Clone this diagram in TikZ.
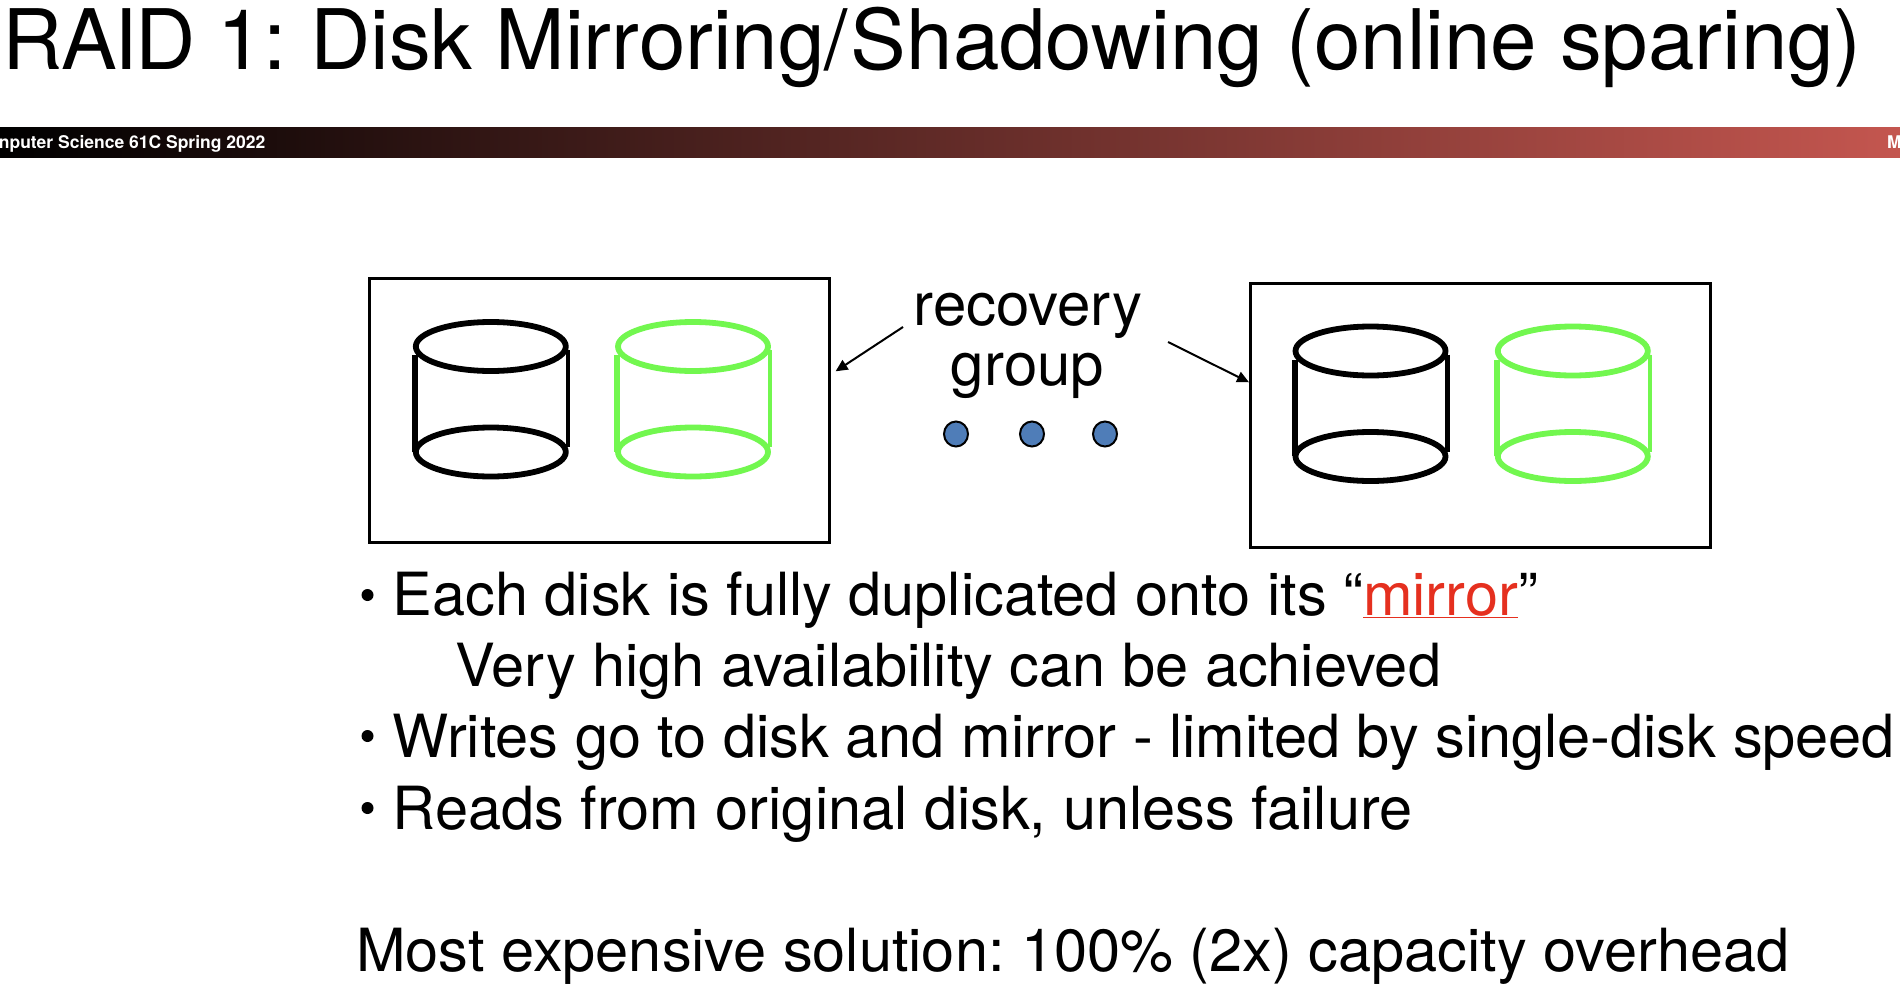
\documentclass[tikz,border=0pt]{standalone}
\usepackage{fontspec}
\setmainfont{TeX Gyre Heros}
\usetikzlibrary{arrows.meta,shapes.geometric}
\definecolor{diskgreen}{HTML}{72F74F}
\definecolor{barred}{HTML}{C4564F}
\definecolor{dotblue}{HTML}{4F7DB8}
\definecolor{mirrorred}{HTML}{E5301F}
\frenchspacing
\tikzset{
  x=1pt,y=-1pt,
  titletext/.style={anchor=base west,inner sep=0pt,font=\fontsize{83.5}{83.5}\selectfont},
  bartext/.style={inner sep=0pt,text=white,font=\fontsize{17.5}{17.5}\selectfont\bfseries},
  bodytext/.style={anchor=base west,inner sep=0pt,font=\fontsize{59.5}{59.5}\selectfont},
  grouptext/.style={anchor=base,inner sep=0pt,font=\fontsize{60}{60}\selectfont},
  groupbox/.style={draw=black,line width=2.6pt,minimum width=460pt,minimum height=264pt,inner sep=0pt,anchor=north west},
  leader/.style={draw=black,line width=2pt,-{Triangle[length=12pt,width=11pt]}},
  dotmark/.style={ellipse,draw=black,line width=2pt,fill=dotblue,minimum width=24pt,minimum height=25pt,inner sep=0pt},
  disk/.pic={
    \draw[line width=5.8pt] (0,0) ellipse [x radius=75,y radius=24.5];
    \draw[line width=5.8pt] (0,105.5) ellipse [x radius=75,y radius=24.5];
    \draw[line width=6pt] (-76,8.5) -- (-76,105);
    \draw[line width=4.6pt] (77,3.5) -- (77,100.5);
  }
}
\begin{document}
\begin{tikzpicture}
\useasboundingbox (0,0) rectangle (1900,990);
\node[titletext] (title) at (2.5,69.5) {R\kern-2pt A\kern-2pt I\kern-2pt D\kern-2pt{} 1: Disk Mirroring/\kern3pt Shadowing (online sparing)};
\shade[left color=black,right color=barred,shading angle=90] (0,127) rectangle (1900,157.5);
\node[bartext,anchor=base east] (course) at (265.5,148) {nputer Science 61C Spring 2022};
\node[bartext,anchor=base west] (bartail) at (1887,148) {M};

\node[groupbox] (leftbox) at (368,277) {};
\node[groupbox] (rightbox) at (1249,282) {};
\pic[draw=black] at (490.8,346.5) {disk};
\pic[draw=diskgreen] at (693,346.5) {disk};
\pic[draw=black] at (1370.5,351) {disk};
\pic[draw=diskgreen] at (1572.8,351) {disk};

\node[grouptext] (rec) at (1028,325.5) {recovery};
\node[grouptext] (grp) at (1027.5,385.5) {group};
\coordinate (leftstart) at (903,327);
\coordinate (rightstart) at (1168,342);
\draw[leader] (leftstart) -- ([xshift=5pt,yshift=39pt]leftbox.east);
\draw[leader] (rightstart) -- ([yshift=33pt]rightbox.west);
\node[dotmark] (d1) at (956,434) {};
\node[dotmark] (d2) at (1032,434) {};
\node[dotmark] (d3) at (1105,434) {};

\fill (367.5,595) circle (6);
\node[bodytext] (l1) at (392.5,615) {Each disk is fully duplicated onto its “\textcolor{mirrorred}{\underline{mirror}}”};
\node[bodytext] (l2) at (455,686) {Very high availability can be achieved};
\fill (367.5,736) circle (6);
\node[bodytext] (l3) at (392.5,757) {Writes go to disk and mirror - limited by single-disk speed};
\fill (367.5,808) circle (6);
\node[bodytext] (l4) at (392.5,829) {Reads from original disk, unless failure};
\node[bodytext] (l5) at (356,971) {Most expensive solution: 100\% (2x) capacity overhead};
\end{tikzpicture}
\end{document}
